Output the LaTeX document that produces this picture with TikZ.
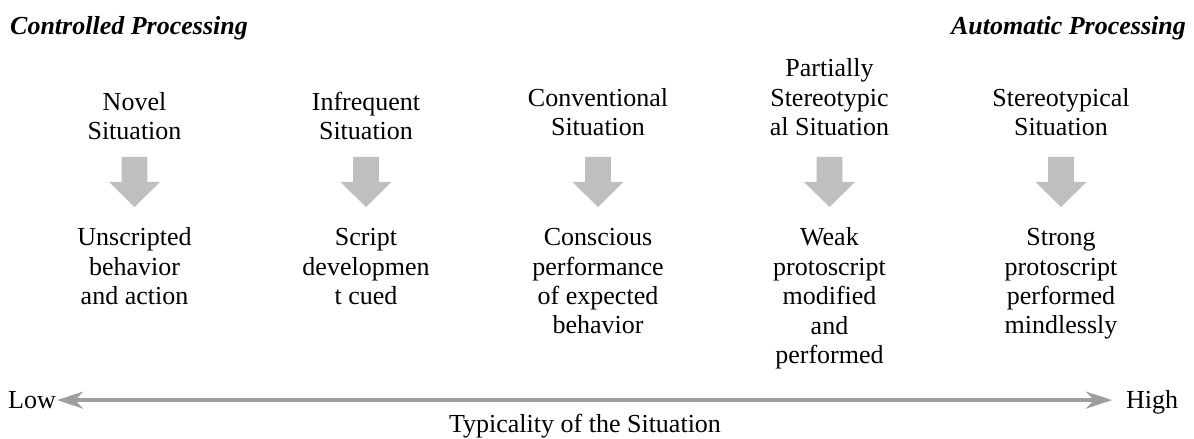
\documentclass[tikz,border=0pt]{standalone}
\usepackage{fontspec}
\setmainfont{Liberation Serif}
\usetikzlibrary{arrows.meta}
\definecolor{blockgray}{RGB}{191,191,191}
\definecolor{axisgray}{RGB}{158,158,158}
\tikzset{
  lbl/.style={font=\fontsize{26bp}{29.4bp}\selectfont, align=center, inner sep=0pt, anchor=base},
  heading/.style={font=\fontsize{26bp}{29.4bp}\selectfont\bfseries\itshape, inner sep=0pt},
  downarrow/.pic={
    \fill[blockgray] (-12.8,0) -- (12.8,0) -- (12.8,25) -- (25.5,25)
      -- (0,50) -- (-25.5,25) -- (-12.8,25) -- cycle;
  }
}
\begin{document}
\begin{tikzpicture}[x=1bp,y=-1bp]
\useasboundingbox (0,0) rectangle (1194,439);

% headings
\node[heading, anchor=base west] (ctrl) at (10,35) {Controlled Processing};
\node[heading, anchor=base east] (auto) at (1186,35) {Automatic Processing};

% situations (anchored at the baseline of the last line)
\node[lbl] (t1) at (134.5,140) {Novel\\Situation};
\node[lbl] (t2) at (366,140) {Infrequent\\Situation};
\node[lbl] (t3) at (598,136) {Conventional\\Situation};
\node[lbl] (t4) at (829.5,135.5) {Partially\\Stereotypic\\al Situation};
\node[lbl] (t5) at (1061,136) {Stereotypical\\Situation};

% block arrows
\foreach \x in {134.5,366,598,829.5,1061}
  \pic at (\x,157) {downarrow};

% responses (anchored at the baseline of the last line)
\node[lbl] (b1) at (134.5,304.5) {Unscripted\\behavior\\and action};
\node[lbl] (b2) at (366,304.5) {Script\\developmen\\t cued};
\node[lbl] (b3) at (598,334) {Conscious\\performance\\of expected\\behavior};
\node[lbl] (b4) at (829.5,363.5) {Weak\\protoscript\\modified\\and\\performed};
\node[lbl] (b5) at (1061,334) {Strong\\protoscript\\performed\\mindlessly};

% typicality axis
\node[lbl, anchor=base west] (low) at (8,408.5) {Low};
\node[lbl, anchor=base west] (high) at (1126,408.5) {High};
\draw[axisgray, line width=3.5bp,
      {Stealth[length=26bp,width=17bp,inset=8bp]}-{Stealth[length=26bp,width=17bp,inset=8bp]},
      shorten <=1bp, shorten >=14bp]
  (low.east) -- (high.west |- low.east);
\node[lbl] (typ) at (585,433) {Typicality of the Situation};
\end{tikzpicture}
\end{document}
